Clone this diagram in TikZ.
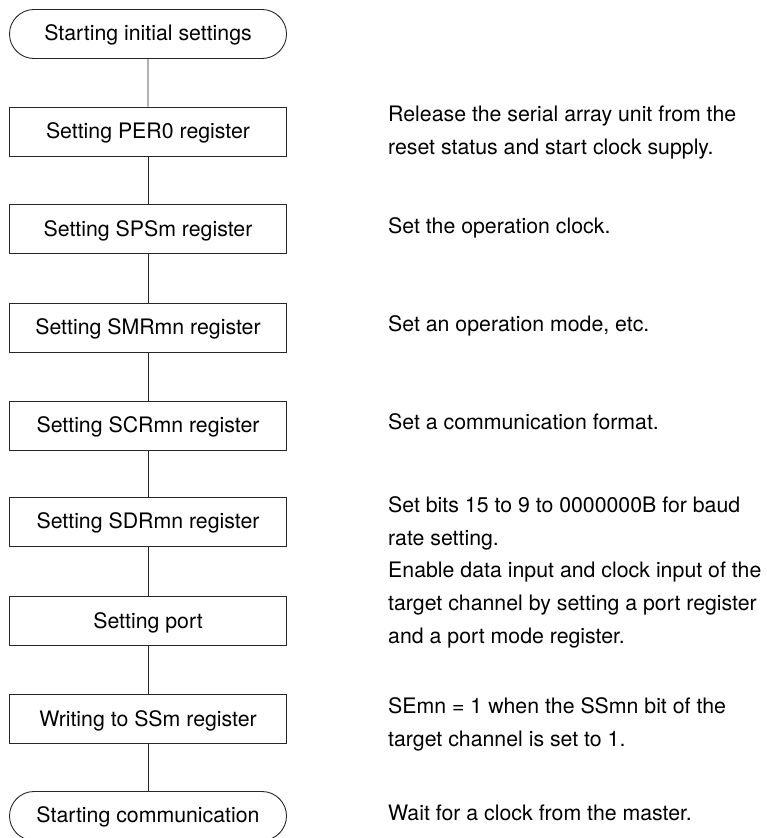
\documentclass[tikz,border=0pt]{standalone}
\usepackage{fontspec}
\setmainfont{TeX Gyre Heros}
\usetikzlibrary{shapes.misc}
\begin{document}
\begin{tikzpicture}[x=1pt,y=-1pt,
  every node/.style={font=\fontsize{21.3}{33}\selectfont},
  stepbox/.style={draw=black!85, line width=0.9pt, minimum width=277pt, minimum height=49pt, inner sep=0pt, text height=15pt, text depth=1pt},
  term/.style={rounded rectangle, draw=black!85, line width=0.9pt, minimum width=277pt, minimum height=49pt, inner sep=0pt, text height=15pt, text depth=2pt},
  link/.style={draw=black!85, line width=0.9pt},
  desc/.style={anchor=base west, inner sep=0pt}]
\useasboundingbox (0,0) rectangle (767,838);
\node[term] (start) at (148,34) {Starting initial settings};
\node[stepbox] (per) at (148,131.5) {Setting PER0 register};
\node[stepbox] (sps) at (148,229) {Setting SPSm register};
\node[stepbox] (smr) at (148,327.5) {Setting SMRmn register};
\node[stepbox] (scr) at (148,425.5) {Setting SCRmn register};
\node[stepbox] (sdr) at (148,521.5) {Setting SDRmn register};
\node[stepbox] (port) at (148,621) {Setting port};
\node[stepbox] (ss) at (148,719) {Writing to SSm register};
\node[term] (comm) at (148,816) {Starting communication};

\draw[link] (start) -- (per);
\draw[link] (per) -- (sps);
\draw[link] (sps) -- (smr);
\draw[link] (smr) -- (scr);
\draw[link] (scr) -- (sdr);
\draw[link] (sdr) -- (port);
\draw[link] (port) -- (ss);
\draw[link] (ss) -- (comm);

\node[desc] (dper) at (388,121) {\begin{tabular}[t]{@{}l@{}}Release the serial array unit from the\\reset status and start clock supply.\end{tabular}};
\node[desc] (dsps) at (388,233) {Set the operation clock.};
\node[desc] (dsmr) at (388,331) {Set an operation mode, etc.};
\node[desc] (dscr) at (388,429) {Set a communication format.};
\node[desc] (dsdr) at (388,512) {\begin{tabular}[t]{@{}l@{}}Set bits 15 to 9 to 0000000B for baud\\rate setting.\end{tabular}};
\node[desc] (dport) at (388,577) {\begin{tabular}[t]{@{}l@{}}Enable data input and clock input of the\\target channel by setting a port register\\and a port mode register.\end{tabular}};
\node[desc] (dss) at (388,713) {\begin{tabular}[t]{@{}l@{}}SEmn = 1 when the SSmn bit of the\\target channel is set to 1.\end{tabular}};
\node[desc] (dcomm) at (388,820) {Wait for a clock from the master.};
\end{tikzpicture}
\end{document}
